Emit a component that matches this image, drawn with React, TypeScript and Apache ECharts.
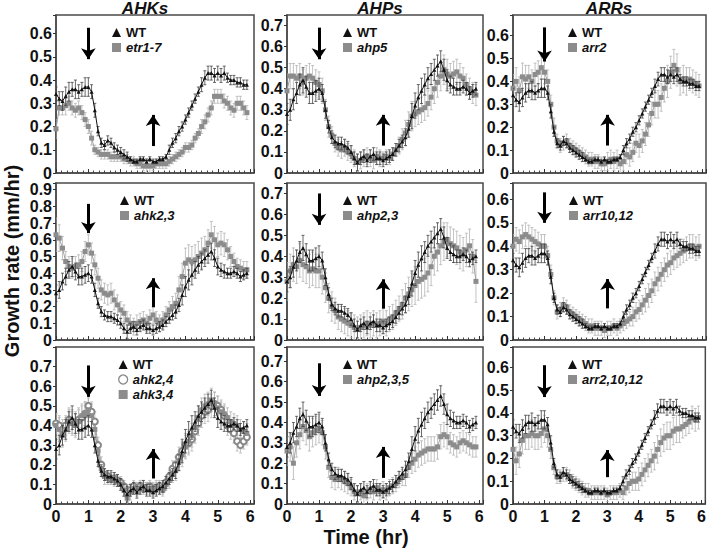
import React, { useEffect, useRef } from 'react';
import * as echarts from 'echarts';

// ---------- data ----------
const TIME_HR = [
  0.0, 0.1, 0.2, 0.3, 0.4, 0.5, 0.6, 0.7, 0.8, 0.9,
  1.0, 1.1, 1.2, 1.3, 1.4, 1.5, 1.6, 1.7, 1.8, 1.9,
  2.0, 2.1, 2.2, 2.3, 2.4, 2.5, 2.6, 2.7, 2.8, 2.9,
  3.0, 3.1, 3.2, 3.3, 3.4, 3.5, 3.6, 3.7, 3.8, 3.9,
  4.0, 4.1, 4.2, 4.3, 4.4, 4.5, 4.6, 4.7, 4.8, 4.9,
  5.0, 5.1, 5.2, 5.3, 5.4, 5.5, 5.6, 5.7, 5.8, 5.9,
];
const X_TICK_LABELS = ['0', '1', '2', '3', '4', '5', '6'];
const COLUMN_TITLES = ['AHKs', 'AHPs', 'ARRs'];

// growth rate (mm/hr)
const WT_A = [
  0.34, 0.32, 0.31, 0.33, 0.35, 0.36, 0.36, 0.35, 0.36, 0.37,
  0.37, 0.35, 0.27, 0.18, 0.13, 0.12, 0.14, 0.13, 0.11, 0.10,
  0.09, 0.08, 0.07, 0.06, 0.05, 0.05, 0.06, 0.06, 0.05, 0.06,
  0.05, 0.05, 0.06, 0.06, 0.07, 0.10, 0.13, 0.15, 0.18, 0.20,
  0.23, 0.26, 0.29, 0.32, 0.35, 0.38, 0.41, 0.43, 0.43, 0.42,
  0.43, 0.42, 0.43, 0.41, 0.40, 0.40, 0.39, 0.39, 0.38, 0.38,
];
const WT_B = [
  0.28, 0.30, 0.35, 0.38, 0.42, 0.44, 0.41, 0.38, 0.38, 0.39,
  0.40, 0.38, 0.30, 0.22, 0.17, 0.15, 0.14, 0.14, 0.13, 0.12,
  0.10, 0.07, 0.05, 0.07, 0.08, 0.06, 0.08, 0.09, 0.07, 0.07,
  0.06, 0.07, 0.08, 0.09, 0.11, 0.13, 0.15, 0.17, 0.21, 0.27,
  0.32, 0.36, 0.39, 0.42, 0.45, 0.47, 0.49, 0.51, 0.53, 0.49,
  0.44, 0.42, 0.41, 0.40, 0.40, 0.41, 0.40, 0.38, 0.39, 0.40,
];
const ETR1_7 = [
  0.19, 0.28, 0.28, 0.29, 0.30, 0.28, 0.27, 0.28, 0.26, 0.23,
  0.20, 0.15, 0.10, 0.09, 0.08, 0.08, 0.08, 0.07, 0.07, 0.07,
  0.07, 0.06, 0.06, 0.05, 0.05, 0.04, 0.04, 0.03, 0.03, 0.03,
  0.03, 0.04, 0.04, 0.04, 0.04, 0.05, 0.06, 0.07, 0.08, 0.09,
  0.11, 0.11, 0.12, 0.15, 0.17, 0.20, 0.22, 0.25, 0.28, 0.33,
  0.33, 0.33, 0.31, 0.30, 0.28, 0.27, 0.30, 0.30, 0.28, 0.26,
];
const AHP5 = [
  0.39, 0.46, 0.46, 0.45, 0.46, 0.43, 0.45, 0.46, 0.45, 0.43,
  0.42, 0.39, 0.30, 0.22, 0.18, 0.14, 0.12, 0.11, 0.12, 0.10,
  0.09, 0.07, 0.05, 0.06, 0.07, 0.08, 0.07, 0.06, 0.08, 0.07,
  0.07, 0.08, 0.07, 0.09, 0.11, 0.13, 0.16, 0.19, 0.23, 0.27,
  0.28, 0.29, 0.30, 0.31, 0.33, 0.36, 0.40, 0.43, 0.46, 0.49,
  0.47, 0.46, 0.47, 0.48, 0.46, 0.45, 0.42, 0.40, 0.38, 0.37,
];
const ARR2 = [
  0.37, 0.40, 0.36, 0.42, 0.41, 0.42, 0.40, 0.43, 0.44, 0.46,
  0.44, 0.40, 0.30, 0.20, 0.14, 0.12, 0.13, 0.14, 0.12, 0.11,
  0.10, 0.09, 0.08, 0.07, 0.06, 0.06, 0.05, 0.05, 0.04, 0.04,
  0.05, 0.06, 0.05, 0.06, 0.04, 0.05, 0.08, 0.07, 0.09, 0.13,
  0.12, 0.14, 0.17, 0.21, 0.26, 0.30, 0.30, 0.33, 0.37, 0.40,
  0.44, 0.47, 0.45, 0.40, 0.41, 0.40, 0.41, 0.40, 0.39, 0.38,
];
const AHK2_3 = [
  0.63, 0.61, 0.55, 0.47, 0.44, 0.43, 0.44, 0.45, 0.47, 0.53,
  0.57, 0.52, 0.45, 0.37, 0.30, 0.28, 0.27, 0.28, 0.24, 0.21,
  0.18, 0.16, 0.12, 0.10, 0.08, 0.10, 0.11, 0.12, 0.10, 0.13,
  0.15, 0.12, 0.10, 0.12, 0.15, 0.18, 0.20, 0.22, 0.30, 0.38,
  0.46, 0.48, 0.47, 0.48, 0.50, 0.52, 0.54, 0.58, 0.63, 0.60,
  0.57, 0.58, 0.57, 0.54, 0.50, 0.47, 0.44, 0.43, 0.42, 0.42,
];
const AHP2_3 = [
  0.28, 0.33, 0.36, 0.35, 0.38, 0.36, 0.35, 0.33, 0.34, 0.33,
  0.33, 0.30, 0.25, 0.20, 0.16, 0.14, 0.11, 0.10, 0.09, 0.08,
  0.07, 0.06, 0.05, 0.06, 0.07, 0.08, 0.07, 0.08, 0.07, 0.08,
  0.09, 0.08, 0.10, 0.11, 0.13, 0.15, 0.17, 0.20, 0.22, 0.24,
  0.26, 0.28, 0.29, 0.30, 0.32, 0.35, 0.40, 0.42, 0.45, 0.47,
  0.48, 0.46, 0.45, 0.44, 0.42, 0.41, 0.43, 0.45, 0.40, 0.28,
];
const ARR10_12 = [
  0.40, 0.43, 0.42, 0.44, 0.45, 0.44, 0.43, 0.42, 0.41, 0.40,
  0.40, 0.36, 0.28, 0.18, 0.12, 0.13, 0.15, 0.14, 0.12, 0.11,
  0.10, 0.09, 0.08, 0.07, 0.06, 0.06, 0.05, 0.05, 0.05, 0.04,
  0.05, 0.05, 0.06, 0.05, 0.06, 0.07, 0.08, 0.09, 0.10, 0.12,
  0.13, 0.15, 0.17, 0.19, 0.21, 0.24, 0.26, 0.28, 0.30, 0.32,
  0.33, 0.35, 0.36, 0.37, 0.38, 0.39, 0.40, 0.40, 0.39, 0.40,
];
const AHK2_4 = [
  0.41, 0.40, 0.38, 0.40, 0.43, 0.42, 0.41, 0.43, 0.44, 0.46,
  0.50, 0.47, 0.42, 0.30, 0.20, 0.15, 0.14, 0.13, 0.13, 0.12,
  0.11, 0.09, 0.06, 0.07, 0.09, 0.08, 0.09, 0.08, 0.08, 0.09,
  0.07, 0.08, 0.09, 0.08, 0.11, 0.14, 0.18, 0.20, 0.24, 0.27,
  0.30, 0.31, 0.33, 0.37, 0.41, 0.45, 0.47, 0.48, 0.50, 0.51,
  0.50, 0.48, 0.45, 0.40, 0.38, 0.36, 0.32, 0.30, 0.32, 0.34,
];
const AHK3_4 = [
  0.40, 0.38, 0.35, 0.38, 0.42, 0.41, 0.40, 0.42, 0.45, 0.46,
  0.48, 0.45, 0.38, 0.27, 0.18, 0.14, 0.13, 0.13, 0.12, 0.12,
  0.10, 0.07, 0.03, 0.06, 0.08, 0.07, 0.08, 0.09, 0.08, 0.08,
  0.08, 0.09, 0.08, 0.07, 0.10, 0.12, 0.15, 0.17, 0.22, 0.25,
  0.29, 0.32, 0.35, 0.39, 0.44, 0.48, 0.50, 0.51, 0.53, 0.51,
  0.49, 0.47, 0.46, 0.44, 0.42, 0.41, 0.40, 0.38, 0.37, 0.36,
];
const AHP2_3_5 = [
  0.26, 0.28, 0.20, 0.30, 0.34, 0.38, 0.36, 0.33, 0.35, 0.36,
  0.37, 0.35, 0.28, 0.18, 0.13, 0.12, 0.13, 0.12, 0.11, 0.10,
  0.08, 0.06, 0.05, 0.06, 0.04, 0.06, 0.07, 0.06, 0.08, 0.06,
  0.07, 0.06, 0.08, 0.09, 0.10, 0.12, 0.13, 0.14, 0.18, 0.20,
  0.22, 0.24, 0.25, 0.26, 0.27, 0.27, 0.27, 0.28, 0.33, 0.34,
  0.33, 0.30, 0.29, 0.28, 0.30, 0.31, 0.30, 0.29, 0.28, 0.28,
];
const ARR2_10_12 = [
  0.24, 0.19, 0.22, 0.28, 0.30, 0.30, 0.31, 0.30, 0.30, 0.31,
  0.33, 0.30, 0.24, 0.16, 0.12, 0.12, 0.13, 0.13, 0.12, 0.10,
  0.09, 0.08, 0.07, 0.06, 0.06, 0.05, 0.05, 0.05, 0.05, 0.05,
  0.04, 0.05, 0.05, 0.05, 0.06, 0.05, 0.07, 0.09, 0.10, 0.10,
  0.11, 0.13, 0.15, 0.17, 0.19, 0.21, 0.24, 0.27, 0.29, 0.30,
  0.30, 0.32, 0.33, 0.33, 0.34, 0.35, 0.36, 0.38, 0.37, 0.38,
];

// error bars, in hundredths of mm/hr
const ERR_WT_A = [
  3, 3, 4, 4, 4, 3, 4, 3, 3, 4, 4, 3, 3, 2, 2, 2, 2, 2, 2, 2,
  2, 2, 2, 1, 1, 1, 1, 1, 1, 1, 1, 1, 1, 1, 1, 2, 2, 2, 2, 2,
  2, 2, 2, 2, 2, 3, 3, 3, 3, 3, 3, 3, 3, 2, 2, 2, 2, 2, 2, 2,
];
const ERR_WT_B = [
  5, 5, 5, 5, 5, 6, 5, 5, 5, 5, 5, 4, 4, 3, 3, 3, 3, 3, 3, 3,
  3, 3, 4, 3, 3, 3, 3, 3, 3, 3, 3, 3, 3, 3, 3, 3, 3, 4, 4, 6,
  6, 6, 6, 5, 5, 5, 5, 5, 5, 5, 5, 4, 4, 3, 3, 3, 3, 3, 3, 3,
];
const ERR_ETR1_7 = [
  4, 3, 3, 4, 3, 3, 3, 3, 3, 3, 3, 3, 2, 2, 2, 2, 2, 2, 2, 2,
  2, 2, 2, 2, 2, 2, 2, 2, 3, 3, 2, 2, 2, 2, 2, 2, 2, 2, 2, 2,
  2, 2, 2, 2, 2, 3, 3, 3, 3, 3, 3, 3, 3, 3, 3, 3, 3, 3, 3, 3,
];
const ERR_AHP5 = [
  8, 6, 6, 6, 6, 6, 6, 6, 6, 6, 6, 6, 5, 5, 4, 4, 4, 4, 4, 4,
  4, 4, 4, 4, 4, 4, 4, 4, 4, 4, 3, 3, 3, 3, 3, 4, 5, 6, 6, 7,
  6, 6, 6, 6, 6, 6, 7, 7, 7, 7, 7, 6, 6, 6, 6, 5, 5, 5, 5, 5,
];
const ERR_ARR2 = [
  6, 6, 6, 6, 6, 5, 5, 5, 5, 5, 5, 5, 4, 4, 3, 3, 3, 3, 3, 3,
  3, 3, 3, 3, 3, 3, 3, 3, 3, 3, 4, 4, 4, 4, 4, 4, 4, 4, 4, 4,
  5, 5, 5, 5, 5, 6, 6, 6, 6, 7, 7, 7, 7, 6, 6, 6, 5, 5, 5, 5,
];
const ERR_AHK2_3 = [
  10, 8, 7, 6, 6, 6, 6, 6, 6, 6, 6, 6, 6, 6, 6, 6, 6, 6, 6, 6,
  5, 5, 5, 5, 5, 5, 5, 5, 5, 5, 5, 5, 5, 5, 5, 5, 6, 6, 8, 8,
  9, 9, 9, 9, 9, 9, 8, 8, 8, 8, 7, 7, 7, 6, 6, 5, 5, 5, 5, 5,
];
const ERR_AHP2_3 = [
  9, 8, 8, 8, 8, 8, 8, 8, 8, 8, 8, 8, 7, 7, 7, 6, 6, 6, 6, 6,
  6, 6, 6, 6, 6, 6, 6, 6, 6, 6, 6, 6, 6, 6, 6, 6, 7, 7, 8, 8,
  9, 9, 9, 9, 9, 9, 9, 9, 9, 9, 8, 8, 8, 8, 8, 8, 8, 8, 8, 10,
];
const ERR_ARR10_12 = [
  5, 5, 5, 5, 5, 5, 5, 5, 5, 5, 5, 4, 4, 3, 3, 3, 3, 3, 3, 3,
  3, 3, 3, 3, 3, 3, 3, 3, 3, 3, 3, 3, 3, 3, 3, 3, 3, 3, 4, 4,
  4, 4, 5, 5, 5, 5, 5, 5, 5, 5, 5, 5, 5, 5, 5, 5, 5, 5, 5, 5,
];
const ERR_AHK2_4 = [
  5, 5, 5, 5, 6, 6, 6, 6, 6, 6, 6, 5, 5, 4, 4, 3, 3, 3, 3, 3,
  3, 3, 4, 3, 3, 3, 3, 3, 3, 3, 3, 3, 3, 3, 3, 3, 4, 4, 5, 5,
  6, 6, 6, 6, 6, 6, 6, 6, 6, 6, 5, 5, 5, 5, 5, 5, 5, 4, 4, 4,
];
const ERR_AHK3_4 = [
  6, 6, 6, 6, 6, 6, 6, 6, 6, 6, 6, 6, 5, 5, 4, 4, 3, 3, 3, 3,
  3, 3, 4, 4, 3, 3, 3, 3, 3, 3, 3, 3, 3, 3, 3, 4, 4, 5, 5, 6,
  6, 6, 6, 6, 6, 6, 6, 6, 6, 6, 6, 5, 5, 5, 5, 5, 5, 5, 5, 5,
];
const ERR_AHP2_3_5 = [
  7, 7, 8, 7, 7, 7, 7, 7, 7, 7, 7, 6, 6, 5, 5, 5, 5, 5, 5, 5,
  4, 4, 4, 4, 4, 4, 4, 4, 4, 4, 4, 4, 4, 4, 4, 4, 4, 5, 5, 5,
  6, 6, 6, 6, 6, 6, 6, 6, 6, 6, 6, 5, 5, 5, 5, 5, 5, 5, 5, 5,
];
const ERR_ARR2_10_12 = [
  6, 6, 6, 6, 6, 6, 6, 6, 6, 6, 6, 5, 4, 3, 3, 3, 3, 3, 3, 3,
  3, 3, 3, 3, 3, 3, 3, 3, 3, 3, 3, 3, 3, 3, 3, 3, 3, 4, 4, 4,
  5, 5, 5, 5, 5, 6, 6, 6, 6, 6, 6, 6, 6, 6, 5, 5, 5, 5, 5, 5,
];

// y-axis extent and highest labelled tick per panel (row-major)
const Y_MAX = [0.68, 0.75, 0.69, 0.94, 0.75, 0.67, 0.8, 0.77, 0.69];
const Y_LABEL_MAX = [0.6, 0.7, 0.6, 0.9, 0.7, 0.6, 0.7, 0.7, 0.6];
// arrows: [down-arrow start, down-arrow tip] at t=1, [up-arrow start, up-arrow tip] at t=3
const DOWN_ARROW = [[0.625, 0.49], [0.69, 0.54], [0.636, 0.487], [0.815, 0.64], [0.70, 0.55], [0.63, 0.50], [0.706, 0.546], [0.69, 0.53], [0.61, 0.47]];
const UP_ARROW = [[0.116, 0.25], [0.13, 0.276], [0.12, 0.254], [0.196, 0.37], [0.15, 0.29], [0.135, 0.26], [0.13, 0.28], [0.128, 0.28], [0.118, 0.237]];

// ---------- layout ----------
const FONT = "'Liberation Sans', Arial, Helvetica, sans-serif";
const COL_LEFT = [56, 287, 513];
const COL_W = [198, 196, 193];
const ROW_TOP = [15, 183, 347];
const ROW_H = [158, 157, 157];
const TITLE_X = [145, 380, 609];
const LEGEND_DX = [56, 56, 55, 64, 56, 56, 62, 56, 55];
const X_MAX = 6.12;
const AXIS_COLOR = '#4a4a4a';
const WT_COLOR = '#111111';
const MUT_COLOR = '#8c8c8c';

type Mut = { name: string; data: number[]; err: number[]; symbol: string };

const PANELS: { wt: number[]; wtErr: number[]; muts: Mut[] }[] = [
  { wt: WT_A, wtErr: ERR_WT_A, muts: [{ name: 'etr1-7', data: ETR1_7, err: ERR_ETR1_7, symbol: 'rect' }] },
  { wt: WT_B, wtErr: ERR_WT_B, muts: [{ name: 'ahp5', data: AHP5, err: ERR_AHP5, symbol: 'rect' }] },
  { wt: WT_A, wtErr: ERR_WT_A, muts: [{ name: 'arr2', data: ARR2, err: ERR_ARR2, symbol: 'rect' }] },
  { wt: WT_B, wtErr: ERR_WT_B, muts: [{ name: 'ahk2,3', data: AHK2_3, err: ERR_AHK2_3, symbol: 'rect' }] },
  { wt: WT_B, wtErr: ERR_WT_B, muts: [{ name: 'ahp2,3', data: AHP2_3, err: ERR_AHP2_3, symbol: 'rect' }] },
  { wt: WT_A, wtErr: ERR_WT_A, muts: [{ name: 'arr10,12', data: ARR10_12, err: ERR_ARR10_12, symbol: 'rect' }] },
  {
    wt: WT_B, wtErr: ERR_WT_B, muts: [
      { name: 'ahk2,4', data: AHK2_4, err: ERR_AHK2_4, symbol: 'emptyCircle' },
      { name: 'ahk3,4', data: AHK3_4, err: ERR_AHK3_4, symbol: 'rect' },
    ],
  },
  { wt: WT_B, wtErr: ERR_WT_B, muts: [{ name: 'ahp2,3,5', data: AHP2_3_5, err: ERR_AHP2_3_5, symbol: 'rect' }] },
  { wt: WT_A, wtErr: ERR_WT_A, muts: [{ name: 'arr2,10,12', data: ARR2_10_12, err: ERR_ARR2_10_12, symbol: 'rect' }] },
];

function errSeries(idx: number, vals: number[], errs: number[], color: string, z: number) {
  return {
    type: 'custom',
    xAxisIndex: idx,
    yAxisIndex: idx,
    z,
    silent: true,
    clip: true,
    encode: { x: 0, y: 1 },
    data: TIME_HR.map((t, j) => [t, vals[j], errs[j] / 100]),
    renderItem: (params: any, api: any) => {
      const x = api.value(0);
      const y = api.value(1);
      const e = api.value(2);
      const top = api.coord([x, y + e]);
      const bot = api.coord([x, y - e]);
      const hw = 1.5;
      const st = { stroke: color, lineWidth: 0.8 };
      return {
        type: 'group',
        children: [
          { type: 'line', shape: { x1: top[0], y1: top[1], x2: bot[0], y2: bot[1] }, style: st },
          { type: 'line', shape: { x1: top[0] - hw, y1: top[1], x2: top[0] + hw, y2: top[1] }, style: st },
          { type: 'line', shape: { x1: bot[0] - hw, y1: bot[1], x2: bot[0] + hw, y2: bot[1] }, style: st },
        ],
      };
    },
  };
}

function buildOption() {
  const grid: any[] = [];
  const xAxis: any[] = [];
  const yAxis: any[] = [];
  const series: any[] = [];
  const legend: any[] = [];

  PANELS.forEach((p, i) => {
    const r = Math.floor(i / 3);
    const c = i % 3;
    grid.push({
      left: COL_LEFT[c], top: ROW_TOP[r], width: COL_W[c], height: ROW_H[r],
      show: true, borderColor: AXIS_COLOR, borderWidth: 1.5, backgroundColor: 'transparent',
    });
    xAxis.push({
      type: 'value', gridIndex: i, min: 0, max: X_MAX, interval: 1,
      axisLine: { show: true, onZero: false, lineStyle: { color: AXIS_COLOR, width: 1.5 } },
      axisTick: { show: true, inside: true, length: 4, lineStyle: { color: '#333' } },
      minorTick: { show: true, splitNumber: 6, length: 2.5, lineStyle: { color: '#444' } },
      splitLine: { show: false },
      minorSplitLine: { show: false },
      axisLabel: {
        show: r === 2, margin: 4, fontSize: 16, fontWeight: 'bold', color: '#111', fontFamily: FONT,
        formatter: (v: number) => {
          const k = Math.round(v);
          return Math.abs(v - k) < 1e-6 && X_TICK_LABELS[k] !== undefined ? X_TICK_LABELS[k] : '';
        },
      },
    });
    const lm = Y_LABEL_MAX[i];
    yAxis.push({
      type: 'value', gridIndex: i, min: 0, max: Y_MAX[i], interval: 0.1,
      axisLine: { show: true, onZero: false, lineStyle: { color: AXIS_COLOR, width: 1.5 } },
      axisTick: { show: true, length: 3, lineStyle: { color: '#333' } },
      splitLine: { show: false },
      axisLabel: {
        margin: 4, fontSize: 16, fontWeight: 'bold', color: '#111', fontFamily: FONT,
        formatter: (v: number) => {
          const k = Math.round(v * 10);
          if (Math.abs(v * 10 - k) > 1e-6 || v > lm + 1e-6) return '';
          return k === 0 ? '0' : (k / 10).toFixed(1);
        },
      },
    });

    p.muts.forEach((m) => {
      series.push(errSeries(i, m.data, m.err, '#b4b4b4', 1));
      const isCircle = m.symbol === 'emptyCircle';
      series.push({
        type: 'line', name: m.name, xAxisIndex: i, yAxisIndex: i, z: 2,
        data: TIME_HR.map((t, j) => [t, m.data[j]]),
        symbol: m.symbol, symbolSize: isCircle ? 6 : 5,
        itemStyle: isCircle ? { color: '#888', borderColor: '#888', borderWidth: 1 } : { color: MUT_COLOR },
        lineStyle: { color: '#a0a0a0', width: 1 },
        emphasis: { disabled: true },
      });
    });
    series.push(errSeries(i, p.wt, p.wtErr, '#444', 3));
    series.push({
      type: 'line', name: 'WT', xAxisIndex: i, yAxisIndex: i, z: 4,
      data: TIME_HR.map((t, j) => [t, p.wt[j]]),
      symbol: 'triangle', symbolSize: 4,
      itemStyle: { color: WT_COLOR },
      lineStyle: { color: WT_COLOR, width: 1 },
      emphasis: { disabled: true },
      markLine: {
        silent: true,
        symbol: ['none', 'arrow'],
        symbolSize: 11,
        label: { show: false },
        lineStyle: { color: '#000', width: 3, type: 'solid' },
        emphasis: { disabled: true },
        data: [
          [{ coord: [1, DOWN_ARROW[i][0]] }, { coord: [1, DOWN_ARROW[i][1]] }],
          [{ coord: [3, UP_ARROW[i][0]] }, { coord: [3, UP_ARROW[i][1]] }],
        ],
      },
    });

    legend.push({
      orient: 'vertical',
      left: COL_LEFT[c] + LEGEND_DX[i],
      top: ROW_TOP[r] + 11,
      padding: 0,
      itemGap: 2,
      itemWidth: 9,
      itemHeight: 9,
      selectedMode: false,
      data: [
        { name: 'WT', icon: 'triangle' },
        ...p.muts.map((m) =>
          m.symbol === 'emptyCircle'
            ? { name: m.name, icon: 'circle', itemStyle: { color: '#fff', borderColor: '#888', borderWidth: 1.3 } }
            : { name: m.name, icon: 'rect', itemStyle: { color: MUT_COLOR } }
        ),
      ],
      formatter: (n: string) => (n === 'WT' ? n : `{i|${n}}`),
      textStyle: {
        fontSize: 13, fontWeight: 'bold', color: '#111', fontFamily: FONT,
        rich: { i: { fontSize: 13, fontWeight: 'bold', fontStyle: 'italic', color: '#111', fontFamily: FONT } },
      },
    });
  });

  const graphic: any[] = [
    ...COLUMN_TITLES.map((t, c) => ({
      type: 'text', x: TITLE_X[c], y: 8, silent: true,
      style: { text: t, fontSize: 17, fontWeight: 'bold', fontStyle: 'italic', fontFamily: FONT, fill: '#111', align: 'center', verticalAlign: 'middle' },
    })),
    {
      type: 'text', x: 12, y: 261, rotation: Math.PI / 2, silent: true,
      style: { text: 'Growth rate (mm/hr)', fontSize: 20, fontWeight: 'bold', fontFamily: FONT, fill: '#111', align: 'center', verticalAlign: 'middle' },
    },
    {
      type: 'text', x: 366, y: 537, silent: true,
      style: { text: 'Time (hr)', fontSize: 20, fontWeight: 'bold', fontFamily: FONT, fill: '#111', align: 'center', verticalAlign: 'middle' },
    },
  ];

  return {
    animation: false,
    backgroundColor: '#ffffff',
    grid, xAxis, yAxis, series, legend, graphic,
  };
}

export default function App() {
  const ref = useRef<HTMLDivElement>(null);
  useEffect(() => {
    if (!ref.current) return;
    const chart = echarts.init(ref.current, null, { renderer: 'svg' });
    chart.setOption(buildOption() as any);
    return () => chart.dispose();
  }, []);
  return <div ref={ref} style={{ position: 'absolute', left: 0, top: 0, width: 709, height: 550 }} />;
}
